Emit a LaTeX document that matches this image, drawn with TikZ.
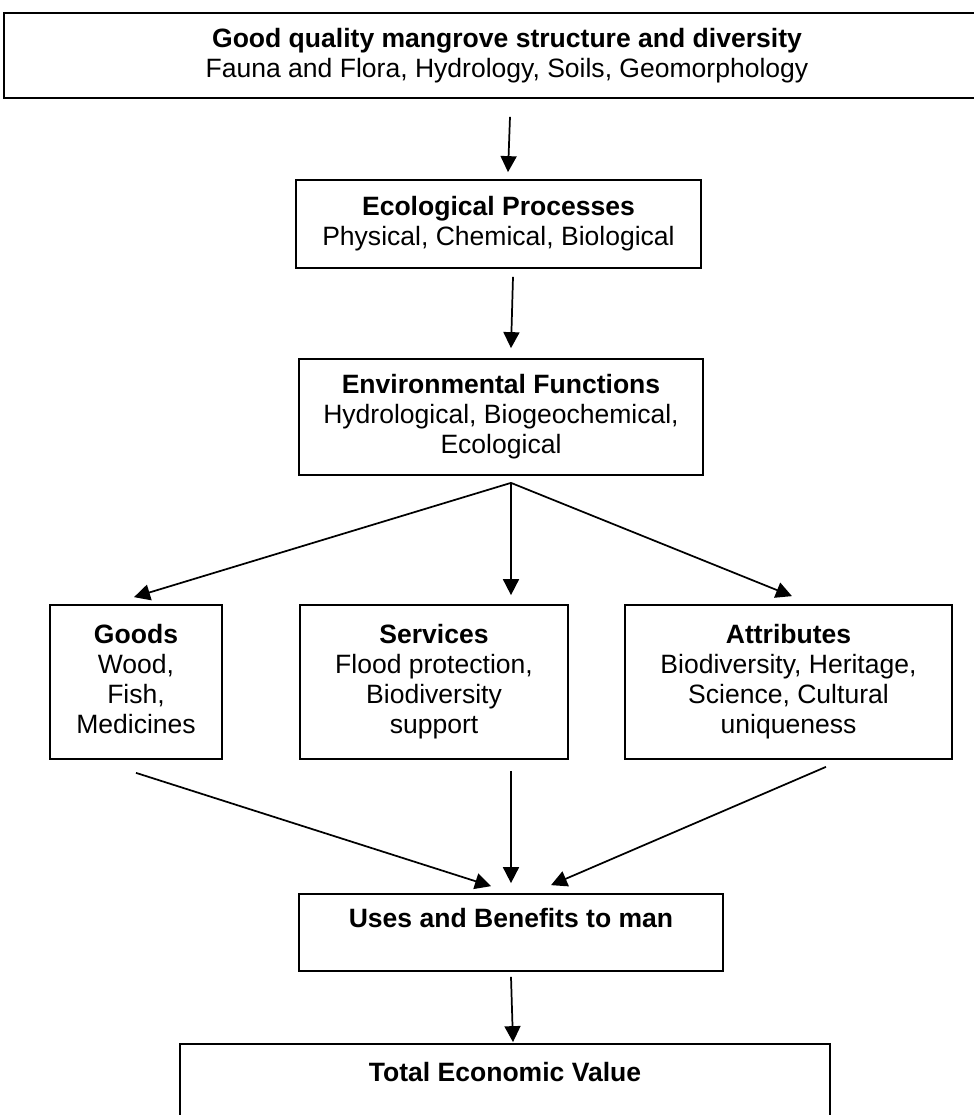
\documentclass[tikz,border=0pt]{standalone}
\usepackage{fontspec}
\setmainfont{Liberation Sans}
\usetikzlibrary{arrows.meta}

\begin{document}
\begin{tikzpicture}[x=0.75pt, y=-0.75pt]
    % Define styles
    \tikzset{
        box/.style={
            draw,
            line width=1.3pt,
            align=center,
            inner sep=0pt,
            font=\fontsize{19.9pt}{22.5pt}\selectfont
        },
        arr/.style={
            line width=1.3pt,
            -{Triangle[length=12pt, width=12pt]}
        }
    }

    \useasboundingbox (0,0) rectangle (974,1115);

    % Boxes
    \node[box, minimum width=754.5pt, minimum height=63.75pt] (mangrove) at (507,55.5)
        {\textbf{Good quality mangrove structure and diversity}\\Fauna and Flora, Hydrology, Soils, Geomorphology};
    \node[box, minimum width=303.75pt, minimum height=66pt] (eco) at (498.5,224)
        {\textbf{Ecological Processes}\\Physical, Chemical, Biological};
    \node[box, minimum width=303pt, minimum height=87pt] (env) at (501,417)
        {\textbf{Environmental Functions}\\Hydrological, Biogeochemical,\\Ecological};
    \node[box, minimum width=129pt, minimum height=115.5pt] (goods) at (136,682)
        {\textbf{Goods}\\Wood,\\Fish,\\Medicines\vphantom{p}};
    \node[box, minimum width=201pt, minimum height=115.5pt] (services) at (434,682)
        {\textbf{Services}\\Flood protection,\\Biodiversity\\support};
    \node[box, minimum width=245.25pt, minimum height=115.5pt] (attributes) at (788.5,682)
        {\textbf{Attributes}\\Biodiversity, Heritage,\\Science, Cultural\\uniqueness};
    \node[box, minimum width=318pt, minimum height=57.75pt] (uses) at (511,932.5)
        {\textbf{Uses and Benefits to man}\\~};
    \node[box, minimum width=487.5pt, minimum height=64.5pt] (tev) at (505,1087)
        {\textbf{Total Economic Value}\\~};

    % Arrows down the middle
    \draw[arr] ([xshift=2.25pt, yshift=-13.5pt]mangrove.south) -- ([xshift=7.125pt, yshift=5.25pt]eco.north);
    \draw[arr] ([xshift=10.875pt, yshift=-6pt]eco.south) -- ([xshift=7.5pt, yshift=7.5pt]env.north);

    % Fan out to goods, services and attributes
    \coordinate (fan) at ([xshift=7.5pt, yshift=-5.25pt]env.south);
    \draw[arr] (fan) -- ([xshift=-1.5pt, yshift=5.25pt]goods.north);
    \draw[arr] (fan) -- ([xshift=57.75pt, yshift=6.75pt]services.north);
    \draw[arr] (fan) -- ([xshift=2.6pt, yshift=6pt]attributes.north);

    % Gather into uses
    \draw[arr] ([yshift=-9.75pt]goods.south) -- ([xshift=-15pt, yshift=5.25pt]uses.north);
    \draw[arr] ([xshift=57.75pt, yshift=-8.25pt]services.south) -- ([yshift=7.5pt]uses.north);
    \draw[arr] ([xshift=28.1pt, yshift=-5.25pt]attributes.south) -- ([xshift=30pt, yshift=6pt]uses.north);

    \draw[arr] ([yshift=-3.75pt]uses.south) -- ([xshift=6pt, yshift=0.75pt]tev.north);
\end{tikzpicture}
\end{document}
